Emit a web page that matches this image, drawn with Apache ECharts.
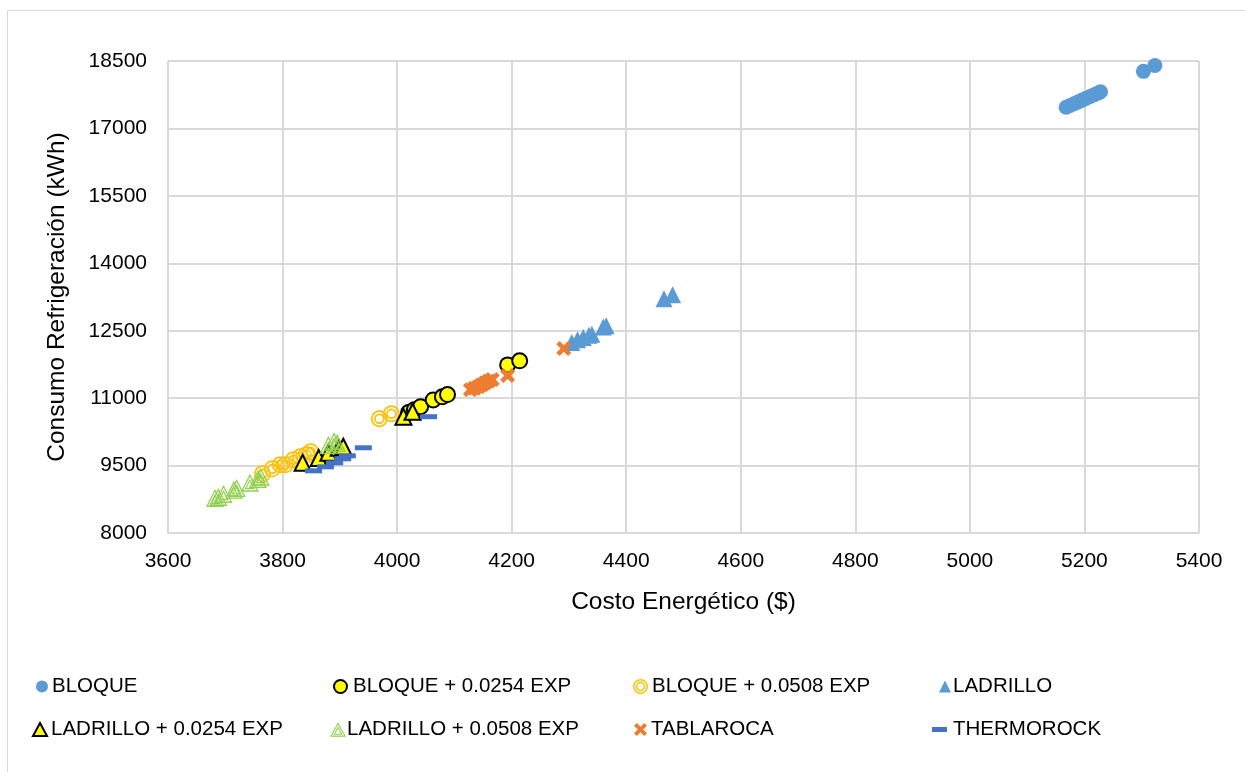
<!DOCTYPE html>
<html><head><meta charset="utf-8">
<script src="https://cdn.jsdelivr.net/npm/echarts@6/dist/echarts.min.js"></script>
<style>html,body{margin:0;padding:0;background:#fff}#c{width:1245px;height:772px}</style>
</head><body><div id="c"></div>
<script>
// ---- data ----
const xTicks = [3600,3800,4000,4200,4400,4600,4800,5000,5200,5400];
const yTicks = [8000,9500,11000,12500,14000,15500,17000,18500];
const seriesNames = ['BLOQUE','BLOQUE + 0.0254 EXP','BLOQUE + 0.0508 EXP','LADRILLO','LADRILLO + 0.0254 EXP','LADRILLO + 0.0508 EXP','TABLAROCA','THERMOROCK'];
const bloque = [[5168,17470],[5175,17510],[5182,17550],[5189,17590],[5196,17630],[5203,17670],[5210,17710],[5217,17750],[5224,17790],[5228,17815],[5303,18270],[5323,18400]];
const bloque0254 = [[4020,10680],[4030,10740],[4041,10810],[4063,10960],[4079,11030],[4088,11080],[4193,11740],[4214,11830]];
const bloque0508 = [[3765,9316],[3782,9427],[3796,9516],[3805,9520],[3819,9628],[3831,9695],[3842,9739],[3849,9806],[3969,10542],[3990,10654]];
const ladrillo = [[4305,12240],[4315,12300],[4325,12350],[4335,12400],[4340,12420],[4360,12580],[4365,12610],[4466,13210],[4481,13300]];
const ladrillo0254 = [[3835,9560],[3863,9670],[3880,9784],[3898,9896],[3906,9918],[4011,10587],[4027,10698]];
const ladrillo0508 = [[3682,8780],[3688,8800],[3697,8870],[3715,8960],[3720,9000],[3743,9120],[3757,9200],[3762,9250],[3880,9960],[3890,10040],[3895,10000]];
const tablaroca = [[4128,11189],[4135,11220],[4142,11256],[4148,11300],[4154,11345],[4160,11380],[4166,11412],[4193,11501],[4291,12103]];
const thermorock = [[3854,9383],[3875,9472],[3891,9561],[3905,9650],[3913,9717],[3941,9896],[4055,10587]];

// ---- marker shapes ----
function circ(r, cw){ const s = cw?1:0; return `M ${r} 0 A ${r} ${r} 0 1 ${s} ${-r} 0 A ${r} ${r} 0 1 ${s} ${r} 0 Z `; }
const ringCircle = 'path://' + circ(10,true) + circ(8,false) + circ(6.2,true) + circ(4.2,false);
function tri(k, cw){
  const c=[0,2]; const pts=[[0,-10],[10,8],[-10,8]].map(p=>[c[0]+k*(p[0]-c[0]), c[1]+k*(p[1]-c[1])]);
  const o = cw? pts : [pts[0],pts[2],pts[1]];
  return `M ${o[0][0]} ${o[0][1]} L ${o[1][0]} ${o[1][1]} L ${o[2][0]} ${o[2][1]} Z `;
}
const ringTri = 'path://' + tri(1,true) + tri(0.76,false) + tri(0.58,true) + tri(0.36,false);
function xShape(){
  const L=10, t=2.8; let d='';
  [[1,1],[1,-1]].forEach(([a,b])=>{
    const u=[a*0.7071,b*0.7071], n=[-u[1],u[0]];
    const p=[[L*u[0]+t*n[0],L*u[1]+t*n[1]],[L*u[0]-t*n[0],L*u[1]-t*n[1]],[-L*u[0]-t*n[0],-L*u[1]-t*n[1]],[-L*u[0]+t*n[0],-L*u[1]+t*n[1]]];
    d += `M ${p[0][0]} ${p[0][1]} L ${p[1][0]} ${p[1][1]} L ${p[2][0]} ${p[2][1]} L ${p[3][0]} ${p[3][1]} Z `;
  });
  return 'path://'+d;
}
const xMark = xShape();

const FONT = '"Liberation Sans", Arial, sans-serif';
const chart = echarts.init(document.getElementById('c'), null, {renderer:'canvas'});

const styles = [
  {symbol:'circle', size:15, item:{color:'#5b9bd5'}},
  {symbol:'circle', size:15, item:{color:'#ffff00', borderColor:'#000', borderWidth:2}},
  {symbol:ringCircle, size:17, item:{color:'#ffc000'}},
  {symbol:'triangle', size:17, item:{color:'#5b9bd5'}},
  {symbol:'triangle', size:16, item:{color:'#ffff00', borderColor:'#000', borderWidth:2}},
  {symbol:ringTri, size:18, item:{color:'#92d050'}},
  {symbol:xMark, size:15, item:{color:'#ed7d31'}},
  {symbol:'rect', size:[17,5], item:{color:'#4472c4'}}
];
const datas = [bloque,bloque0254,bloque0508,ladrillo,ladrillo0254,ladrillo0508,tablaroca,thermorock];

const series = seriesNames.map((n,i)=>({
  name:n, type:'scatter', data:datas[i], symbol:styles[i].symbol, symbolSize:styles[i].size,
  itemStyle:Object.assign({opacity:1}, styles[i].item), z: 2+i, emphasis:{disabled:true}
}));

// legend positions: [iconLeft, centerY]
const legPos = [[36,688],[333,688],[633,688],[939,688],[32,731],[330,731],[634,731],[932,731]];
const legIconSize = [[12,12],[13,13],[15,15],[12,12],[14,13],[16,15],[13,13],[15,5]];
const textStart = [52,352,652,953,50,347,651,953];
const legends = seriesNames.map((n,i)=>({
  data:[n], left:legPos[i][0], top:legPos[i][1]-12, itemWidth:legIconSize[i][0], itemHeight:legIconSize[i][1],
  itemGap:0, padding:0, selectedMode:false,
  textStyle:{fontFamily:FONT, fontSize:20.5, color:'#000', padding:[0,0,0,textStart[i]-legPos[i][0]-legIconSize[i][0]-5]}, height:24
}));

chart.setOption({
  animation:false,
  backgroundColor:'#fff',
  graphic:[{type:'rect', shape:{x:7.5,y:10.5,width:1240,height:770}, style:{fill:'none', stroke:'#d9d9d9', lineWidth:1}, silent:true}],
  legend: legends,
  grid:{left:168, right:46, top:61, bottom:239, containLabel:false},
  xAxis:{type:'value', min:xTicks[0], max:xTicks[xTicks.length-1], interval:200,
    name:'Costo Energético ($)', nameLocation:'middle', nameGap:57,
    nameTextStyle:{fontFamily:FONT, fontSize:24.5, color:'#000'},
    axisLine:{show:true, lineStyle:{color:'#d9d9d9', width:2}}, axisTick:{show:false},
    axisLabel:{fontFamily:FONT, fontSize:21, color:'#000', margin:18, formatter:v=>String(v)},
    splitLine:{show:true, lineStyle:{color:'#d9d9d9', width:2}}},
  yAxis:{type:'value', min:yTicks[0], max:yTicks[yTicks.length-1], interval:1500,
    name:'Consumo Refrigeración (kWh)', nameLocation:'middle', nameGap:98,
    nameTextStyle:{fontFamily:FONT, fontSize:24.5, color:'#000'},
    axisLine:{show:false}, axisTick:{show:false},
    axisLabel:{fontFamily:FONT, fontSize:21, color:'#000', margin:21, formatter:v=>String(v)},
    splitLine:{show:true, lineStyle:{color:'#d9d9d9', width:2}}},
  series: series
});
</script></body></html>
